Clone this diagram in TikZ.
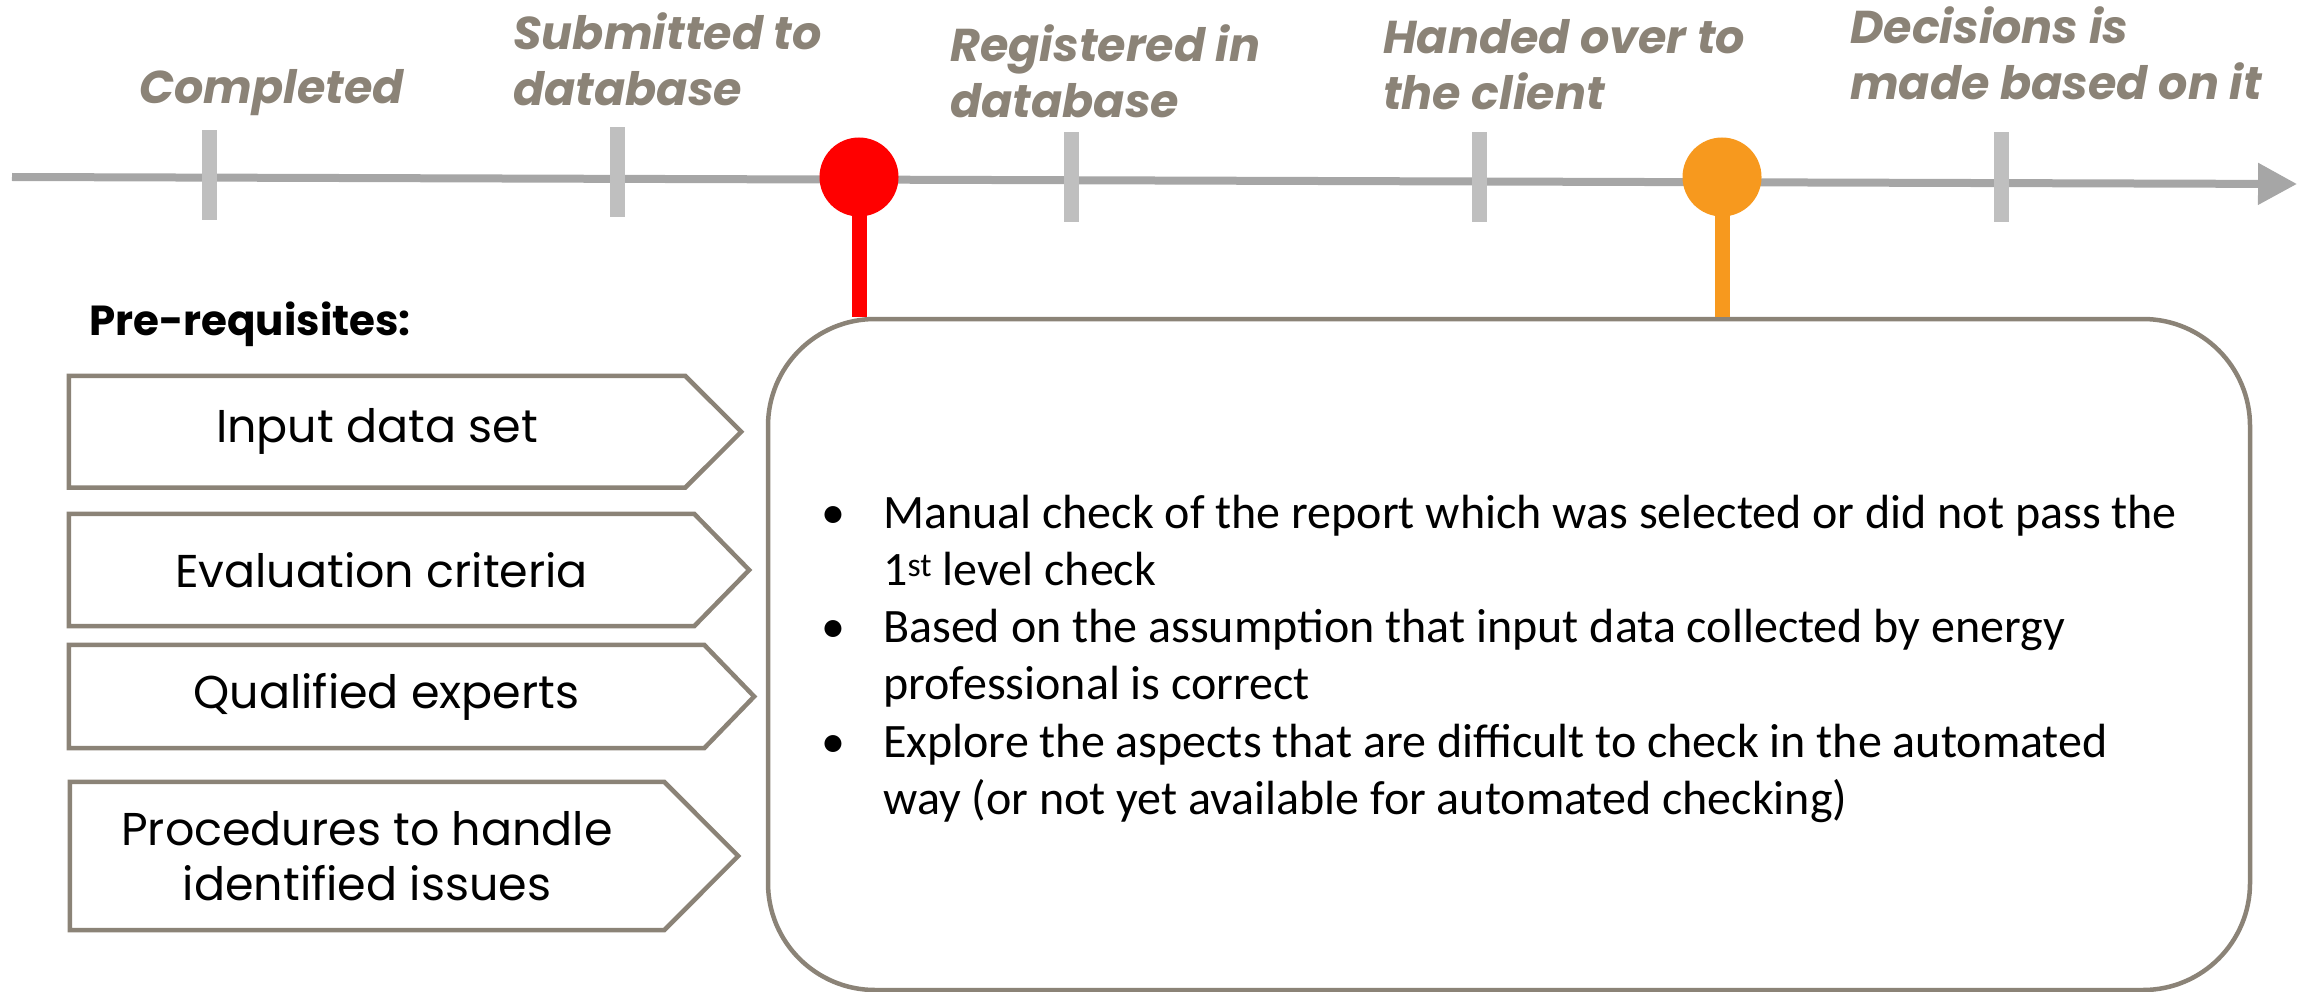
\documentclass[tikz,border=0pt]{standalone}
\usepackage{fontspec}
\setmainfont{Poppins}
\newfontfamily\carl{Carlito}
\usetikzlibrary{arrows.meta,calc,backgrounds}
\definecolor{tlgray}{HTML}{A6A6A6}
\definecolor{tickgray}{HTML}{BFBFBF}
\definecolor{labc}{HTML}{8B8377}
\definecolor{brd}{HTML}{8B8377}
\definecolor{myred}{HTML}{FF0000}
\definecolor{myorange}{HTML}{F7991E}
\tikzset{
  tickmark/.style={rectangle, fill=tickgray, minimum width=15pt, minimum height=90pt, inner sep=0pt},
  dot/.style={circle, minimum size=79pt, inner sep=0pt},
  lab/.style={font=\fontsize{46}{56}\selectfont\bfseries\itshape, text=labc, align=left, anchor=base west, inner sep=0pt},
  prebox/.style={rectangle, draw=none, inner sep=0pt, font=\fontsize{46}{55}\selectfont, align=center},
  preborder/.style={draw=brd, line width=4.5pt, line join=miter, fill=white},
  mainbox/.style={rectangle, draw=brd, line width=4.5pt, rounded corners=107pt, fill=white, inner sep=0pt},
  stem/.style={line width=15pt}
}
\begin{document}
\begin{tikzpicture}[x=1pt,y=-1pt]
\useasboundingbox (0,0) rectangle (2298,992);
% timeline
\coordinate (tlstart) at (12,177);
\coordinate (tlend) at (2297,184);
\draw[line width=8pt, tlgray, -{Triangle[length=39pt,width=40pt]}] (tlstart) -- (tlend);
% ticks
\node[tickmark] (t1) at (209,175) {};
\node[tickmark] (t2) at (617,172) {};
\node[tickmark] (t3) at (1071,177) {};
\node[tickmark] (t4) at (1479,177) {};
\node[tickmark] (t5) at (2001,177) {};
% labels (anchor = baseline of last line)
\node[lab] (l1) at (139,104) {Completed};
\node[lab] (l2) at (513,106) {Submitted to\\database};
\node[lab] (l3) at (950,118) {Registered in\\database};
\node[lab] (l4) at (1383,110) {Handed over to\\the client};
\node[lab] (l5) at (1850,100) {Decisions is\\made based on it};
% main box
\node[mainbox, minimum width=1482pt, minimum height=671pt] (main) at (1509,654.5) {};
% dots and stems
\node[dot, fill=myred] (rdot) at (859,177) {};
\node[dot, fill=myorange] (odot) at (1722,177) {};
\draw[stem, myred] ($(rdot.south)+(0,-3)$) -- (rdot.south |- main.north);
\draw[stem, myorange] ($(odot.south)+(0,-3)$) -- (odot.south |- main.north);
% prerequisites title
\node[font=\fontsize{42}{48}\selectfont\bfseries, anchor=base west, inner sep=0pt] (pre) at (89,335) {Pre-requisites:};
% pentagon boxes
\node[prebox, minimum width=616pt, minimum height=111.5pt] (p1) at (377,431.75) {Input data set};
\node[prebox, minimum width=625pt, minimum height=112pt] (p2) at (381.5,570) {Evaluation criteria};
\node[prebox, minimum width=635pt, minimum height=103pt] (p3) at (386.5,696.5) {Qualified experts};
\node[prebox, minimum width=594pt, minimum height=148pt] (p4) at (367,856) {Procedures to handle\\identified issues};
\begin{scope}[on background layer]
\foreach \p/\t in {p1/56, p2/55, p3/50, p4/74} {
  \draw[preborder] (\p.north west) -- (\p.north east) -- ($(\p.east)+(\t,0)$) -- (\p.south east) -- (\p.south west) -- cycle;
}
\end{scope}
% bullets (anchor = baseline of last line)
\node[font=\carl\fontsize{48}{57.3}\selectfont, align=left, anchor=base west, inner sep=0pt] (bul) at (817,814.5) {%
\makebox[66pt][l]{\hspace{4pt}\textbullet}Manual check of the report which was selected or did not pass the\\
\hspace{66pt}1\textsuperscript{st} level check\\
\makebox[66pt][l]{\hspace{4pt}\textbullet}Based on the assumption that input data collected by energy\\
\hspace{66pt}professional is correct\\
\makebox[66pt][l]{\hspace{4pt}\textbullet}Explore the aspects that are difficult to check in the automated\\
\hspace{66pt}way (or not yet available for automated checking)};
\end{tikzpicture}
\end{document}
